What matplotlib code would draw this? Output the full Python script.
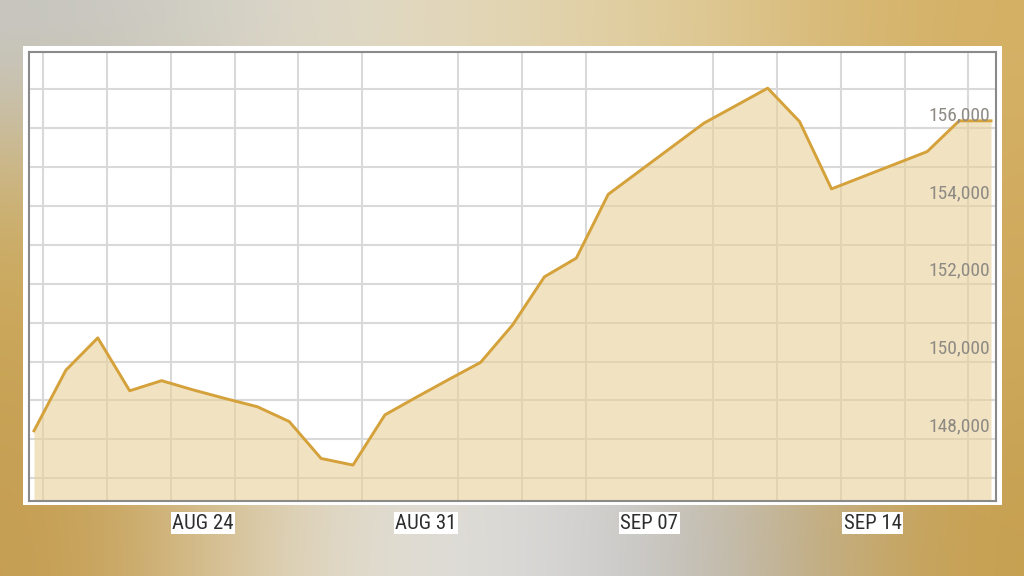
import datetime as dt

import numpy as np
import pandas as pd
import matplotlib
matplotlib.use('Agg')
from matplotlib import pyplot as plt
import matplotlib.dates as mdates
from matplotlib import font_manager
from matplotlib.ticker import MultipleLocator
from matplotlib.patches import Rectangle
from matplotlib.transforms import offset_copy

# daily closing values, Aug 18 .. Sep 17
dates = pd.date_range('2020-08-18 17:00', periods=31, freq='D')
values = [148220, 149780, 150610, 149250, 149510, 149270, 149050, 148840,
          148460, 147510, 147340, 148630, 149090, 149540, 149980, 150940,
          152180, 152660, 154300, 154910, 155520, 156130, 156580, 157030,
          156170, 154440, 154760, 155080, 155400, 156190, 156190]

tick_dates = [dt.datetime(2020, 8, 24), dt.datetime(2020, 8, 31),
              dt.datetime(2020, 9, 7), dt.datetime(2020, 9, 14)]
tick_labels = ['AUG 24', 'AUG 31', 'SEP 07', 'SEP 14']
y_labels = [148000, 150000, 152000, 154000, 156000]

LINE = '#d4a13a'
FILL = '#e9d098'

# pick a narrow face if one is around, the original uses a condensed font
installed = {(f.name, f.stretch) for f in font_manager.fontManager.ttflist}
names = {n for n, s in installed}
font_kw = {'family': 'Roboto', 'stretch': 'normal'}
for cand in ['Liberation Sans Narrow', 'Roboto Condensed', 'DejaVu Sans Condensed', 'Open Sans Condensed']:
    if cand in names:
        font_kw = {'family': cand, 'stretch': 'normal'}
        break
else:
    for n, s in installed:
        if n in ('Roboto', 'DejaVu Sans', 'Open Sans', 'Noto Sans') and s in ('condensed', 'semi-condensed'):
            font_kw = {'family': n, 'stretch': s}
            break
narrow = font_kw['family'] != 'Roboto' or font_kw['stretch'] != 'normal'
size = 14 if narrow else 12.5

fig = plt.figure(figsize=(10.24, 5.76), dpi=100)

# gold / silver backdrop
bg_colors = np.array([
    [[198, 198, 194], [222, 218, 205], [228, 214, 178], [222, 200, 146], [212, 176, 100]],
    [[205, 172, 98], [225, 215, 190], [225, 215, 190], [220, 200, 160], [208, 170, 92]],
    [[200, 162, 82], [225, 215, 195], [222, 220, 215], [205, 200, 185], [205, 166, 86]],
    [[196, 156, 78], [228, 222, 205], [222, 222, 222], [188, 188, 188], [200, 160, 78]],
]) / 255.0
bg = fig.add_axes([0, 0, 1, 1], zorder=-10)
bg.imshow(bg_colors, extent=[0, 1, 0, 1], aspect='auto', interpolation='bicubic')
bg.axis('off')

# white card behind the chart
fig.patches.append(Rectangle((0.0222, 0.1233), 0.956, 0.797, transform=fig.transFigure,
                             facecolor='white', edgecolor='none', zorder=-5))

ax = fig.add_axes([0.0286, 0.1302, 0.9438, 0.780])
ax.fill_between(dates, values, 146000, color=FILL, alpha=0.6, lw=0, zorder=2)
ax.plot(dates, values, color=LINE, lw=2.1, zorder=3)

ax.set_xlim(dt.datetime(2020, 8, 18, 13, 28), dt.datetime(2020, 9, 17, 20, 33))
ax.set_ylim(146416, 157967)

ax.xaxis.set_minor_locator(mdates.DayLocator(bymonthday=range(1, 32, 2)))
ax.set_xticks(tick_dates)
ax.set_xticklabels(tick_labels, fontsize=size + 1, color='#2e2e2e', **font_kw)
ax.yaxis.set_major_locator(MultipleLocator(1000))

ax.set_axisbelow(True)
ax.grid(which='minor', axis='x', color='#d9d9d9', lw=1.5)
ax.grid(which='major', axis='y', color='#d9d9d9', lw=1.5)

ax.tick_params(axis='x', which='both', length=0, pad=9)
ax.tick_params(axis='y', length=0, labelleft=False)
for lbl in ax.get_xticklabels():
    lbl.set_bbox(dict(facecolor='white', edgecolor='none', pad=1.0))

ylab_trans = offset_copy(ax.get_yaxis_transform(), fig=fig, x=0, y=4, units='dots')
for v in y_labels:
    ax.text(0.994, v, '{:,}'.format(v), transform=ylab_trans,
            ha='right', va='bottom', fontsize=size, color='#8e8a84', zorder=4, **font_kw)

for s in ax.spines.values():
    s.set_color('#8a8a8a')
    s.set_linewidth(1.5)

fig.savefig('out.png', dpi=100)
